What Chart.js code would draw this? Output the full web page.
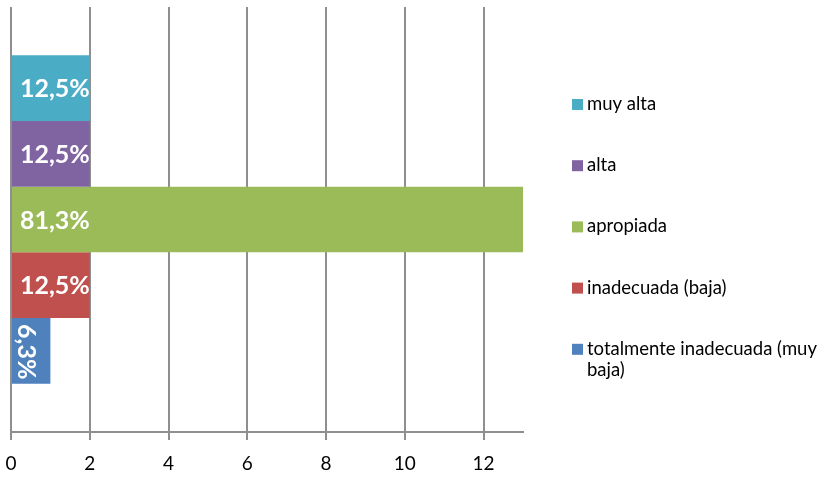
<!DOCTYPE html>
<html>
<head>
<meta charset="utf-8">
<script src="https://cdn.jsdelivr.net/npm/chart.js@4/dist/chart.umd.min.js"></script>
<style>
  html, body { margin: 0; padding: 0; background: #fff; }
  #wrap { width: 822px; height: 482px; }
</style>
</head>
<body>
<div id="wrap"><canvas id="c" width="822" height="482"></canvas></div>
<script>
// Valoración: number of respondents choosing each level
const levels = ['muy alta', 'alta', 'apropiada', 'inadecuada (baja)', 'totalmente inadecuada (muy baja)'];
const counts = [2, 2, 13, 2, 1];
const respondents = 16;
const colors = ['#4BACC6', '#8064A2', '#9BBB59', '#C0504D', '#4F81BD'];
const xTicks = [0, 2, 4, 6, 8, 10, 12];
const xMax = 13;

const pctLabel = v => (v / respondents * 100).toFixed(1).replace('.', ',') + '%';

const FONT = 'Lato, "Open Sans", sans-serif';

// White percentage labels inside the start of each bar
const barLabels = {
  id: 'barLabels',
  afterDatasetsDraw(chart) {
    const ctx = chart.ctx;
    ctx.save();
    ctx.fillStyle = '#ffffff';
    ctx.font = 'bold 25px ' + FONT;
    chart.data.datasets.forEach((ds, i) => {
      const el = chart.getDatasetMeta(i).data[0];
      if (!el) return;
      const text = pctLabel(ds.data[0]);
      const len = Math.abs(el.x - el.base);
      const w = ctx.measureText(text).width;
      if (w <= len + 4) {
        ctx.textAlign = 'left';
        ctx.textBaseline = 'middle';
        ctx.fillText(text, el.base + 8, el.y + 1);
      } else {
        // narrow bar: write the label downwards along the bar
        ctx.save();
        ctx.translate((el.base + el.x) / 2 - 5, el.y - el.height / 2 + 6);
        ctx.rotate(Math.PI / 2);
        ctx.textAlign = 'left';
        ctx.textBaseline = 'middle';
        ctx.fillText(text, 0, 0);
        ctx.restore();
      }
    });
    ctx.restore();
  }
};

// Legend on the right with square swatches and wrapped labels
const sideLegend = {
  id: 'sideLegend',
  afterDraw(chart) {
    const ctx = chart.ctx;
    const x0 = 572, y0 = 104, step = 61.2, maxW = 822 - 588 - 2, lh = 21;
    ctx.save();
    ctx.font = '18.5px ' + FONT;
    ctx.textBaseline = 'middle';
    ctx.textAlign = 'left';
    chart.data.datasets.forEach((ds, i) => {
      const y = y0 + i * step;
      ctx.fillStyle = ds.backgroundColor;
      ctx.fillRect(x0, y - 5, 11, 11);
      ctx.fillStyle = '#000000';
      const words = ds.label.split(' ');
      const lines = [];
      let cur = '';
      words.forEach(wd => {
        const t = cur ? cur + ' ' + wd : wd;
        if (ctx.measureText(t).width > maxW && cur) { lines.push(cur); cur = wd; }
        else cur = t;
      });
      lines.push(cur);
      lines.forEach((ln, k) => ctx.fillText(ln, x0 + 15, y + k * lh));
    });
    ctx.restore();
  }
};

new Chart(document.getElementById('c'), {
  type: 'bar',
  data: {
    labels: [''],
    datasets: levels.map((lab, i) => ({
      label: lab,
      data: [counts[i]],
      backgroundColor: colors[i],
      borderWidth: 0,
      categoryPercentage: 0.773,
      barPercentage: 1.0
    }))
  },
  options: {
    indexAxis: 'y',
    responsive: false,
    animation: false,
    layout: { padding: { left: 11, right: 299, top: 7, bottom: 0 } },
    plugins: {
      legend: { display: false },
      tooltip: { enabled: false }
    },
    scales: {
      x: {
        type: 'linear',
        min: 0,
        max: xMax,
        bounds: 'data',
        afterBuildTicks: scale => { scale.ticks = xTicks.map(v => ({ value: v })); },
        afterFit: scale => { scale.paddingLeft = 0; scale.paddingRight = 0; scale.height = 50; },
        ticks: {
          includeBounds: false,
          color: '#000000',
          font: { family: FONT, size: 19, lineHeight: 1.26 },
          padding: 12,
          maxRotation: 0
        },
        grid: {
          color: '#8f8f8f',
          lineWidth: 2,
          drawTicks: true,
          tickLength: 8
        },
        border: { color: '#8f8f8f', width: 2 }
      },
      y: {
        display: false
      }
    }
  },
  plugins: [barLabels, sideLegend]
});
</script>
</body>
</html>
